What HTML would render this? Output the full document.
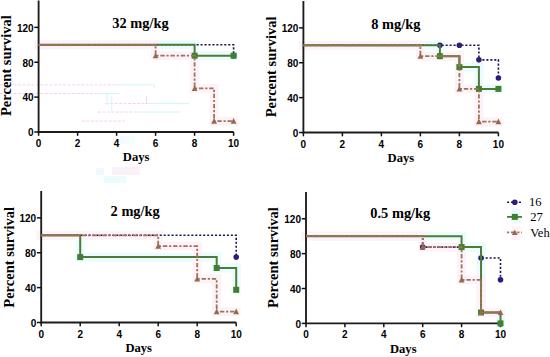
<!DOCTYPE html>
<html><head><meta charset="utf-8"><style>
html,body{margin:0;padding:0;background:#fff;}
body{width:550px;height:357px;overflow:hidden;}
svg{display:block;}
.tk{font-family:"Liberation Sans",sans-serif;font-weight:bold;font-size:10px;fill:#000;}
.ti{font-family:"Liberation Serif",serif;font-weight:bold;font-size:14.4px;fill:#000;}
.ax{font-family:"Liberation Serif",serif;font-weight:bold;font-size:12.6px;fill:#000;}
.yl{font-family:"Liberation Serif",serif;font-weight:bold;font-size:14.5px;fill:#000;}
.lg{font-family:"Liberation Serif",serif;font-size:12.5px;fill:#000;}
</style></head><body>
<svg width="550" height="357" viewBox="0 0 550 357">
<g><line x1="0" y1="84.9" x2="115.5" y2="84.9" stroke="#f8d0f0" stroke-width="1" stroke-dasharray="3,1.5"/><line x1="115.5" y1="84.9" x2="154.5" y2="84.9" stroke="#cff6f8" stroke-width="1"/><line x1="0" y1="93.5" x2="100" y2="93.5" stroke="#f8d0f0" stroke-width="1" stroke-dasharray="3,1.5"/><line x1="100" y1="93.5" x2="120" y2="93.5" stroke="#cff6f8" stroke-width="1"/><line x1="105.5" y1="103.5" x2="145" y2="103.5" stroke="#f8d0f0" stroke-width="1" stroke-dasharray="3,1.5"/><line x1="145" y1="103.5" x2="189" y2="103.5" stroke="#cff6f8" stroke-width="1"/><line x1="98" y1="112" x2="138" y2="112" stroke="#f8d0f0" stroke-width="1" stroke-dasharray="3,1.5"/><line x1="138" y1="112" x2="180" y2="112" stroke="#cff6f8" stroke-width="1"/><line x1="81.8" y1="121" x2="124.5" y2="121" stroke="#f8d0f0" stroke-width="1" stroke-dasharray="3,1.5"/><line x1="107" y1="93.5" x2="107" y2="105" stroke="#cff6f8" stroke-width="1"/><line x1="111.8" y1="96" x2="111.8" y2="112" stroke="#cff6f8" stroke-width="1"/><line x1="146.4" y1="96" x2="146.4" y2="104" stroke="#f8d0f0" stroke-width="1"/><line x1="154.5" y1="84.9" x2="154.5" y2="88" stroke="#cff6f8" stroke-width="1"/><rect x="113" y="136" width="22" height="8" fill="#f5fcfd"/><rect x="104" y="176" width="22" height="7" fill="#ecfbfc"/><rect x="112" y="167" width="28" height="8" fill="#fcf0fa"/><rect x="96" y="168" width="8" height="7" fill="#eefbfc"/></g><g><g><rect x="34.1" y="40.3" width="165" height="9" fill="#ebfcfc"/><rect x="190.1" y="40.3" width="9" height="19.9" fill="#ebfcfc"/><rect x="190.1" y="51.2" width="48" height="9" fill="#ebfcfc"/><rect x="34.1" y="40.3" width="126" height="9" fill="#fdf2f9"/><rect x="151.1" y="40.3" width="9" height="19.9" fill="#fdf2f9"/><rect x="151.1" y="51.2" width="48" height="9" fill="#fdf2f9"/><rect x="190.1" y="51.2" width="9" height="41.7" fill="#fdf2f9"/><rect x="190.1" y="83.9" width="28.5" height="9" fill="#fdf2f9"/><rect x="209.6" y="83.9" width="9" height="41.7" fill="#fdf2f9"/><rect x="209.6" y="116.6" width="28.5" height="9" fill="#fdf2f9"/></g>
<path d="M38.6,0.5 L38.6,132 L233.6,132" fill="none" stroke="#1c1c1c" stroke-width="1.85"/>
<line x1="34.3" y1="132" x2="38.6" y2="132" stroke="#111" stroke-width="1.5"/>
<text class="tk" x="33.6" y="136.3" text-anchor="end">0</text>
<line x1="34.3" y1="97.12" x2="38.6" y2="97.12" stroke="#111" stroke-width="1.5"/>
<text class="tk" x="33.6" y="101.42" text-anchor="end">40</text>
<line x1="34.3" y1="62.24" x2="38.6" y2="62.24" stroke="#111" stroke-width="1.5"/>
<text class="tk" x="33.6" y="66.54" text-anchor="end">80</text>
<line x1="34.3" y1="27.36" x2="38.6" y2="27.36" stroke="#111" stroke-width="1.5"/>
<text class="tk" x="33.6" y="31.66" text-anchor="end">120</text>
<line x1="38.6" y1="132" x2="38.6" y2="135.8" stroke="#111" stroke-width="1.5"/>
<text class="tk" x="38.6" y="147" text-anchor="middle">0</text>
<line x1="77.6" y1="132" x2="77.6" y2="135.8" stroke="#111" stroke-width="1.5"/>
<text class="tk" x="77.6" y="147" text-anchor="middle">2</text>
<line x1="116.6" y1="132" x2="116.6" y2="135.8" stroke="#111" stroke-width="1.5"/>
<text class="tk" x="116.6" y="147" text-anchor="middle">4</text>
<line x1="155.6" y1="132" x2="155.6" y2="135.8" stroke="#111" stroke-width="1.5"/>
<text class="tk" x="155.6" y="147" text-anchor="middle">6</text>
<line x1="194.6" y1="132" x2="194.6" y2="135.8" stroke="#111" stroke-width="1.5"/>
<text class="tk" x="194.6" y="147" text-anchor="middle">8</text>
<line x1="233.6" y1="132" x2="233.6" y2="135.8" stroke="#111" stroke-width="1.5"/>
<text class="tk" x="233.6" y="147" text-anchor="middle">10</text>
<text class="ax" x="136.1" y="161.2" text-anchor="middle">Days</text>
<text class="yl" transform="translate(10.6,65.6) rotate(-90)" x="0" y="0" text-anchor="middle">Percent survival</text>
<text class="ti" x="140.5" y="27.6" text-anchor="middle">32 mg/kg</text>
<path d="M38.6,44.8 L233.6,44.8 L233.6,55.7" fill="none" stroke="#221650" stroke-width="1.6" stroke-dasharray="2.1,1.85"/>
<circle cx="233.6" cy="55.7" r="2.8" fill="#2e1a80"/>
<path d="M38.6,44.8 L194.6,44.8 L194.6,55.7 L233.6,55.7 L233.6,55.7" fill="none" stroke="#4f7a3c" stroke-width="2"/>
<rect x="191.6" y="52.7" width="6" height="6" fill="#3f8030"/>
<rect x="230.6" y="52.7" width="6" height="6" fill="#3f8030"/>
<line x1="38.6" y1="44.8" x2="155.6" y2="44.8" stroke="#7a7a4e" stroke-width="1.8"/>
<path d="M38.6,44.8 L155.6,44.8 L155.6,55.7 L194.6,55.7 L194.6,88.4 L214.1,88.4 L214.1,121.1 L233.6,121.1 L233.6,121.1" fill="none" stroke="#9a7655" stroke-width="1.8" stroke-dasharray="4.4,1.8,2.2,1.8"/>
<path d="M152.7,58.3 L155.6,52.7 L158.5,58.3 Z" fill="#98684a"/>
<path d="M191.7,91 L194.6,85.4 L197.5,91 Z" fill="#98684a"/>
<path d="M211.2,123.7 L214.1,118.1 L217,123.7 Z" fill="#98684a"/>
<path d="M230.7,123.7 L233.6,118.1 L236.5,123.7 Z" fill="#98684a"/></g>
<g><g><rect x="298.9" y="40.8" width="145.5" height="9" fill="#ebfcfc"/><rect x="435.4" y="40.8" width="9" height="19.9" fill="#ebfcfc"/><rect x="435.4" y="51.7" width="28.5" height="9" fill="#ebfcfc"/><rect x="454.9" y="51.7" width="9" height="19.9" fill="#ebfcfc"/><rect x="454.9" y="62.6" width="28.5" height="9" fill="#ebfcfc"/><rect x="474.4" y="62.6" width="9" height="30.8" fill="#ebfcfc"/><rect x="474.4" y="84.4" width="28.5" height="9" fill="#ebfcfc"/><rect x="298.9" y="40.8" width="126" height="9" fill="#fdf2f9"/><rect x="415.9" y="40.8" width="9" height="19.9" fill="#fdf2f9"/><rect x="415.9" y="51.7" width="48" height="9" fill="#fdf2f9"/><rect x="454.9" y="51.7" width="9" height="41.7" fill="#fdf2f9"/><rect x="454.9" y="84.4" width="28.5" height="9" fill="#fdf2f9"/><rect x="474.4" y="84.4" width="9" height="41.7" fill="#fdf2f9"/><rect x="474.4" y="117.1" width="28.5" height="9" fill="#fdf2f9"/></g>
<path d="M303.4,1 L303.4,132.5 L498.4,132.5" fill="none" stroke="#1c1c1c" stroke-width="1.85"/>
<line x1="299.1" y1="132.5" x2="303.4" y2="132.5" stroke="#111" stroke-width="1.5"/>
<text class="tk" x="298.4" y="136.8" text-anchor="end">0</text>
<line x1="299.1" y1="97.62" x2="303.4" y2="97.62" stroke="#111" stroke-width="1.5"/>
<text class="tk" x="298.4" y="101.92" text-anchor="end">40</text>
<line x1="299.1" y1="62.74" x2="303.4" y2="62.74" stroke="#111" stroke-width="1.5"/>
<text class="tk" x="298.4" y="67.04" text-anchor="end">80</text>
<line x1="299.1" y1="27.86" x2="303.4" y2="27.86" stroke="#111" stroke-width="1.5"/>
<text class="tk" x="298.4" y="32.16" text-anchor="end">120</text>
<line x1="303.4" y1="132.5" x2="303.4" y2="136.3" stroke="#111" stroke-width="1.5"/>
<text class="tk" x="303.4" y="147.5" text-anchor="middle">0</text>
<line x1="342.4" y1="132.5" x2="342.4" y2="136.3" stroke="#111" stroke-width="1.5"/>
<text class="tk" x="342.4" y="147.5" text-anchor="middle">2</text>
<line x1="381.4" y1="132.5" x2="381.4" y2="136.3" stroke="#111" stroke-width="1.5"/>
<text class="tk" x="381.4" y="147.5" text-anchor="middle">4</text>
<line x1="420.4" y1="132.5" x2="420.4" y2="136.3" stroke="#111" stroke-width="1.5"/>
<text class="tk" x="420.4" y="147.5" text-anchor="middle">6</text>
<line x1="459.4" y1="132.5" x2="459.4" y2="136.3" stroke="#111" stroke-width="1.5"/>
<text class="tk" x="459.4" y="147.5" text-anchor="middle">8</text>
<line x1="498.4" y1="132.5" x2="498.4" y2="136.3" stroke="#111" stroke-width="1.5"/>
<text class="tk" x="498.4" y="147.5" text-anchor="middle">10</text>
<text class="ax" x="400.9" y="161.7" text-anchor="middle">Days</text>
<text class="yl" transform="translate(275.7,66.9) rotate(-90)" x="0" y="0" text-anchor="middle">Percent survival</text>
<text class="ti" x="395.8" y="28.9" text-anchor="middle">8 mg/kg</text>
<path d="M303.4,45.3 L478.9,45.3 L478.9,59.86 L498.4,59.86 L498.4,78" fill="none" stroke="#221650" stroke-width="1.6" stroke-dasharray="2.1,1.85"/>
<circle cx="439.9" cy="45.3" r="2.8" fill="#2e1a80"/>
<circle cx="459.4" cy="45.3" r="2.8" fill="#2e1a80"/>
<circle cx="478.9" cy="59.86" r="2.8" fill="#2e1a80"/>
<circle cx="498.4" cy="78" r="2.8" fill="#2e1a80"/>
<path d="M303.4,45.3 L439.9,45.3 L439.9,56.2 L459.4,56.2 L459.4,67.1 L478.9,67.1 L478.9,88.9 L498.4,88.9 L498.4,88.9" fill="none" stroke="#4f7a3c" stroke-width="2"/>
<rect x="436.9" y="53.2" width="6" height="6" fill="#3f8030"/>
<rect x="456.4" y="64.1" width="6" height="6" fill="#3f8030"/>
<rect x="475.9" y="85.9" width="6" height="6" fill="#3f8030"/>
<rect x="495.4" y="85.9" width="6" height="6" fill="#3f8030"/>
<line x1="303.4" y1="45.3" x2="420.4" y2="45.3" stroke="#7a7a4e" stroke-width="1.8"/>
<line x1="439.9" y1="56.2" x2="459.4" y2="56.2" stroke="#7a7a4e" stroke-width="1.8"/>
<line x1="459.4" y1="56.2" x2="459.4" y2="67.1" stroke="#7a7a4e" stroke-width="1.8"/>
<path d="M303.4,45.3 L420.4,45.3 L420.4,56.2 L459.4,56.2 L459.4,88.9 L478.9,88.9 L478.9,121.6 L498.4,121.6 L498.4,121.6" fill="none" stroke="#9a7655" stroke-width="1.8" stroke-dasharray="4.4,1.8,2.2,1.8"/>
<path d="M417.5,58.8 L420.4,53.2 L423.3,58.8 Z" fill="#98684a"/>
<path d="M456.5,91.5 L459.4,85.9 L462.3,91.5 Z" fill="#98684a"/>
<path d="M476,124.2 L478.9,118.6 L481.8,124.2 Z" fill="#98684a"/>
<path d="M495.5,124.2 L498.4,118.6 L501.3,124.2 Z" fill="#98684a"/></g>
<g><g><rect x="36.7" y="230.8" width="48" height="9" fill="#ebfcfc"/><rect x="75.7" y="230.8" width="9" height="30.8" fill="#ebfcfc"/><rect x="75.7" y="252.6" width="145.5" height="9" fill="#ebfcfc"/><rect x="212.2" y="252.6" width="9" height="19.9" fill="#ebfcfc"/><rect x="212.2" y="263.5" width="28.5" height="9" fill="#ebfcfc"/><rect x="231.7" y="263.5" width="9" height="30.8" fill="#ebfcfc"/><rect x="36.7" y="230.8" width="126" height="9" fill="#fdf2f9"/><rect x="153.7" y="230.8" width="9" height="19.9" fill="#fdf2f9"/><rect x="153.7" y="241.7" width="48" height="9" fill="#fdf2f9"/><rect x="192.7" y="241.7" width="9" height="41.7" fill="#fdf2f9"/><rect x="192.7" y="274.4" width="28.5" height="9" fill="#fdf2f9"/><rect x="212.2" y="274.4" width="9" height="41.7" fill="#fdf2f9"/><rect x="212.2" y="307.1" width="28.5" height="9" fill="#fdf2f9"/></g>
<path d="M41.2,191 L41.2,322.5 L236.2,322.5" fill="none" stroke="#1c1c1c" stroke-width="1.85"/>
<line x1="36.9" y1="322.5" x2="41.2" y2="322.5" stroke="#111" stroke-width="1.5"/>
<text class="tk" x="36.2" y="326.8" text-anchor="end">0</text>
<line x1="36.9" y1="287.62" x2="41.2" y2="287.62" stroke="#111" stroke-width="1.5"/>
<text class="tk" x="36.2" y="291.92" text-anchor="end">40</text>
<line x1="36.9" y1="252.74" x2="41.2" y2="252.74" stroke="#111" stroke-width="1.5"/>
<text class="tk" x="36.2" y="257.04" text-anchor="end">80</text>
<line x1="36.9" y1="217.86" x2="41.2" y2="217.86" stroke="#111" stroke-width="1.5"/>
<text class="tk" x="36.2" y="222.16" text-anchor="end">120</text>
<line x1="41.2" y1="322.5" x2="41.2" y2="326.3" stroke="#111" stroke-width="1.5"/>
<text class="tk" x="41.2" y="337.5" text-anchor="middle">0</text>
<line x1="80.2" y1="322.5" x2="80.2" y2="326.3" stroke="#111" stroke-width="1.5"/>
<text class="tk" x="80.2" y="337.5" text-anchor="middle">2</text>
<line x1="119.2" y1="322.5" x2="119.2" y2="326.3" stroke="#111" stroke-width="1.5"/>
<text class="tk" x="119.2" y="337.5" text-anchor="middle">4</text>
<line x1="158.2" y1="322.5" x2="158.2" y2="326.3" stroke="#111" stroke-width="1.5"/>
<text class="tk" x="158.2" y="337.5" text-anchor="middle">6</text>
<line x1="197.2" y1="322.5" x2="197.2" y2="326.3" stroke="#111" stroke-width="1.5"/>
<text class="tk" x="197.2" y="337.5" text-anchor="middle">8</text>
<line x1="236.2" y1="322.5" x2="236.2" y2="326.3" stroke="#111" stroke-width="1.5"/>
<text class="tk" x="236.2" y="337.5" text-anchor="middle">10</text>
<text class="ax" x="138.7" y="351.7" text-anchor="middle">Days</text>
<text class="yl" transform="translate(13.8,257.3) rotate(-90)" x="0" y="0" text-anchor="middle">Percent survival</text>
<text class="ti" x="135.2" y="216.1" text-anchor="middle">2 mg/kg</text>
<path d="M41.2,235.3 L236.2,235.3 L236.2,257.1" fill="none" stroke="#221650" stroke-width="1.6" stroke-dasharray="2.1,1.85"/>
<circle cx="236.2" cy="257.1" r="2.8" fill="#2e1a80"/>
<path d="M41.2,235.3 L80.2,235.3 L80.2,257.1 L216.7,257.1 L216.7,268 L236.2,268 L236.2,289.8" fill="none" stroke="#4f7a3c" stroke-width="2"/>
<rect x="77.2" y="254.1" width="6" height="6" fill="#3f8030"/>
<rect x="213.7" y="265" width="6" height="6" fill="#3f8030"/>
<rect x="233.2" y="286.8" width="6" height="6" fill="#3f8030"/>
<line x1="41.2" y1="235.3" x2="80.2" y2="235.3" stroke="#7a7a4e" stroke-width="1.8"/>
<path d="M41.2,235.3 L158.2,235.3 L158.2,246.2 L197.2,246.2 L197.2,278.9 L216.7,278.9 L216.7,311.6 L236.2,311.6 L236.2,311.6" fill="none" stroke="#9a7655" stroke-width="1.8" stroke-dasharray="4.4,1.8,2.2,1.8"/>
<path d="M155.3,248.8 L158.2,243.2 L161.1,248.8 Z" fill="#98684a"/>
<path d="M194.3,281.5 L197.2,275.9 L200.1,281.5 Z" fill="#98684a"/>
<path d="M213.8,314.2 L216.7,308.6 L219.6,314.2 Z" fill="#98684a"/>
<path d="M233.3,314.2 L236.2,308.6 L239.1,314.2 Z" fill="#98684a"/></g>
<g><g><rect x="301.5" y="231.7" width="164.6" height="9" fill="#ebfcfc"/><rect x="457.1" y="231.7" width="9" height="19.9" fill="#ebfcfc"/><rect x="457.1" y="242.6" width="28.45" height="9" fill="#ebfcfc"/><rect x="476.55" y="242.6" width="9" height="74.4" fill="#ebfcfc"/><rect x="476.55" y="308" width="28.45" height="9" fill="#ebfcfc"/><rect x="496" y="308" width="9" height="19.9" fill="#ebfcfc"/><rect x="301.5" y="231.7" width="125.7" height="9" fill="#fdf2f9"/><rect x="418.2" y="231.7" width="9" height="19.9" fill="#fdf2f9"/><rect x="418.2" y="242.6" width="47.9" height="9" fill="#fdf2f9"/><rect x="457.1" y="242.6" width="9" height="41.7" fill="#fdf2f9"/><rect x="457.1" y="275.3" width="28.45" height="9" fill="#fdf2f9"/><rect x="476.55" y="275.3" width="9" height="41.7" fill="#fdf2f9"/><rect x="476.55" y="308" width="28.45" height="9" fill="#fdf2f9"/></g>
<path d="M306,191.9 L306,323.4 L500.5,323.4" fill="none" stroke="#1c1c1c" stroke-width="1.85"/>
<line x1="301.7" y1="323.4" x2="306" y2="323.4" stroke="#111" stroke-width="1.5"/>
<text class="tk" x="301" y="327.7" text-anchor="end">0</text>
<line x1="301.7" y1="288.52" x2="306" y2="288.52" stroke="#111" stroke-width="1.5"/>
<text class="tk" x="301" y="292.82" text-anchor="end">40</text>
<line x1="301.7" y1="253.64" x2="306" y2="253.64" stroke="#111" stroke-width="1.5"/>
<text class="tk" x="301" y="257.94" text-anchor="end">80</text>
<line x1="301.7" y1="218.76" x2="306" y2="218.76" stroke="#111" stroke-width="1.5"/>
<text class="tk" x="301" y="223.06" text-anchor="end">120</text>
<line x1="306" y1="323.4" x2="306" y2="327.2" stroke="#111" stroke-width="1.5"/>
<text class="tk" x="306" y="337.9" text-anchor="middle">0</text>
<line x1="344.9" y1="323.4" x2="344.9" y2="327.2" stroke="#111" stroke-width="1.5"/>
<text class="tk" x="344.9" y="337.9" text-anchor="middle">2</text>
<line x1="383.8" y1="323.4" x2="383.8" y2="327.2" stroke="#111" stroke-width="1.5"/>
<text class="tk" x="383.8" y="337.9" text-anchor="middle">4</text>
<line x1="422.7" y1="323.4" x2="422.7" y2="327.2" stroke="#111" stroke-width="1.5"/>
<text class="tk" x="422.7" y="337.9" text-anchor="middle">6</text>
<line x1="461.6" y1="323.4" x2="461.6" y2="327.2" stroke="#111" stroke-width="1.5"/>
<text class="tk" x="461.6" y="337.9" text-anchor="middle">8</text>
<line x1="500.5" y1="323.4" x2="500.5" y2="327.2" stroke="#111" stroke-width="1.5"/>
<text class="tk" x="500.5" y="337.9" text-anchor="middle">10</text>
<text class="ax" x="403.25" y="352.6" text-anchor="middle">Days</text>
<text class="yl" transform="translate(278,257.5) rotate(-90)" x="0" y="0" text-anchor="middle">Percent survival</text>
<text class="ti" x="400.3" y="217.6" text-anchor="middle">0.5 mg/kg</text>
<path d="M306,236.2 L422.7,236.2 L422.7,247.1 L481.05,247.1 L481.05,258 L500.5,258 L500.5,279.8" fill="none" stroke="#221650" stroke-width="1.6" stroke-dasharray="2.1,1.85"/>
<circle cx="422.7" cy="247.1" r="2.8" fill="#2e1a80"/>
<circle cx="481.05" cy="258" r="2.8" fill="#2e1a80"/>
<circle cx="500.5" cy="279.8" r="2.8" fill="#2e1a80"/>
<path d="M306,236.2 L461.6,236.2 L461.6,247.1 L481.05,247.1 L481.05,312.5 L500.5,312.5 L500.5,323.4" fill="none" stroke="#4f7a3c" stroke-width="2"/>
<rect x="458.6" y="244.1" width="6" height="6" fill="#3f8030"/>
<rect x="478.05" y="309.5" width="6" height="6" fill="#3f8030"/>
<rect x="497.5" y="320.4" width="6" height="6" fill="#3f8030"/>
<line x1="306" y1="236.2" x2="422.7" y2="236.2" stroke="#7a7a4e" stroke-width="1.8"/>
<line x1="481.05" y1="279.8" x2="481.05" y2="312.5" stroke="#7a7a4e" stroke-width="1.8"/>
<line x1="481.05" y1="312.5" x2="500.5" y2="312.5" stroke="#7a7a4e" stroke-width="1.8"/>
<path d="M306,236.2 L422.7,236.2 L422.7,247.1 L461.6,247.1 L461.6,279.8 L481.05,279.8 L481.05,312.5 L500.5,312.5 L500.5,312.5" fill="none" stroke="#9a7655" stroke-width="1.8" stroke-dasharray="4.4,1.8,2.2,1.8"/>
<path d="M419.8,249.7 L422.7,244.1 L425.6,249.7 Z" fill="#98684a"/>
<path d="M458.7,282.4 L461.6,276.8 L464.5,282.4 Z" fill="#98684a"/>
<path d="M478.15,315.1 L481.05,309.5 L483.95,315.1 Z" fill="#98684a"/>
<path d="M497.6,315.1 L500.5,309.5 L503.4,315.1 Z" fill="#98684a"/></g>
<rect x="511.5" y="208.5" width="9" height="15" fill="#ebfcfc"/><rect x="511.5" y="226" width="9" height="14" fill="#fdf2f9"/><line x1="507" y1="202.2" x2="522" y2="202.2" stroke="#221650" stroke-width="1.6" stroke-dasharray="2.1,1.85"/><circle cx="514.8" cy="202.2" r="2.8" fill="#2e1a80"/><text class="lg" x="528.9" y="206.4">16</text><line x1="507" y1="216.9" x2="522" y2="216.9" stroke="#4f7a3c" stroke-width="1.8"/><rect x="511.8" y="213.9" width="6" height="6" fill="#3f8030"/><text class="lg" x="530.2" y="221.1">27</text><line x1="507" y1="232.4" x2="522" y2="232.4" stroke="#9a7655" stroke-width="1.8" stroke-dasharray="2.2,1.8,4.4,1.8"/><path d="M511.9,235 L514.8,229.4 L517.7,235 Z" fill="#98684a"/><text class="lg" x="530.2" y="236.6">Veh</text></svg></body></html>
